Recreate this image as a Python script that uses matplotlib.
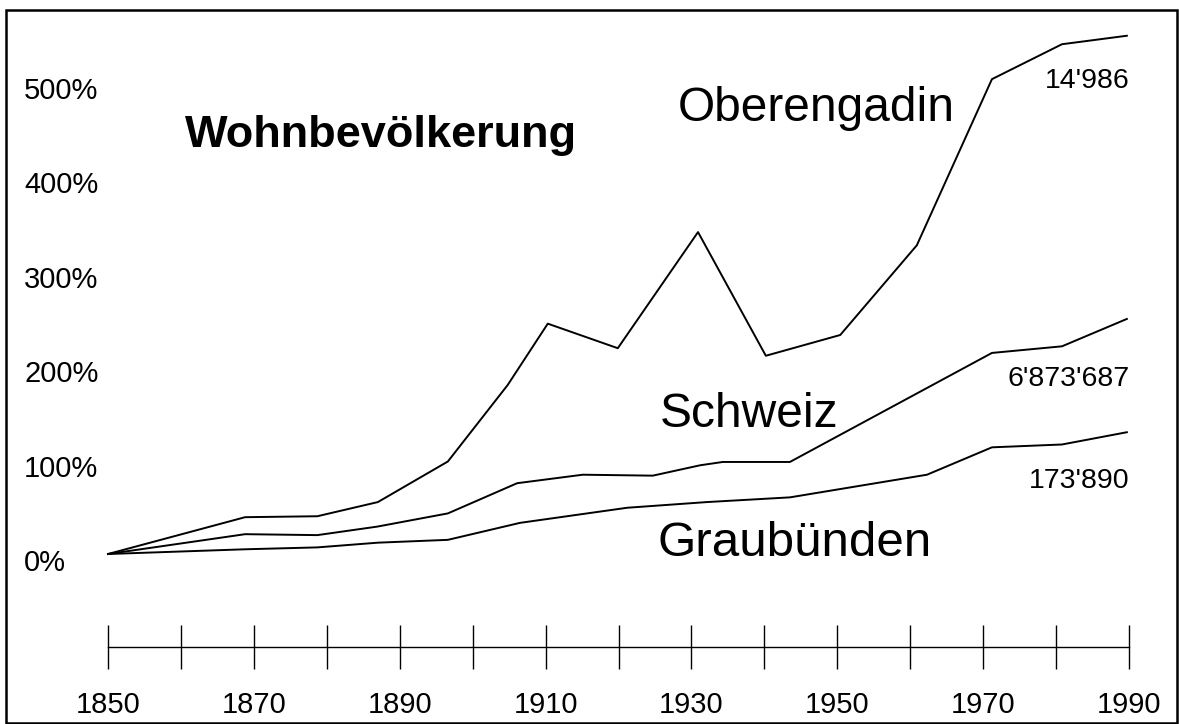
import matplotlib
matplotlib.use("Agg")
import matplotlib.pyplot as plt
from matplotlib.patches import Rectangle
from matplotlib.transforms import ScaledTranslation

# Wohnbevölkerung, Zunahme seit 1850 in Prozent
years_ober = [1850, 1868.8, 1878.7, 1887.0, 1896.6, 1904.8, 1910.3, 1919.9, 1930.9,
              1940.2, 1950.4, 1960.9, 1971.2, 1980.8, 1989.7]
ober = [0, 39, 40, 55, 98, 179, 244, 218, 341, 210, 232, 327, 503, 540, 549]

years_ch = [1850, 1868.8, 1878.7, 1886.9, 1896.6, 1906.1, 1915.1, 1924.7, 1931.2,
            1934.3, 1943.5, 1971.2, 1980.8, 1989.7]
schweiz = [0, 21, 20, 29, 43, 75, 84, 83, 94, 97.5, 97.5, 213, 220, 249]

years_gr = [1850, 1868.8, 1878.7, 1887.0, 1896.6, 1906.5, 1921.2, 1932.1, 1943.5,
            1962.3, 1971.2, 1980.8, 1989.7]
graub = [0, 5, 7, 12, 15, 33, 49, 55, 60, 84, 113, 116, 129]

pct_labels = [0, 100, 200, 300, 400, 500]
major_years = list(range(1850, 1991, 20))
minor_years = list(range(1860, 1990, 20))

end_values = ["14'986", "6'873'687", "173'890"]

plt.rcParams['font.family'] = ['Liberation Sans', 'DejaVu Sans']

fig = plt.figure(figsize=(11.79, 7.24), dpi=100)
ax = fig.add_axes([0, 0, 1, 1])
ax.set_xlim(1835.19, 1996.85)
ax.set_ylim(-180.08, 586.86)

lw = 1.4
ax.plot(years_ober, ober, color='black', lw=lw)
ax.plot(years_ch, schweiz, color='black', lw=lw)
ax.plot(years_gr, graub, color='black', lw=lw)

# x axis drawn as a line with cross ticks below the chart
for side in ['left', 'top', 'right']:
    ax.spines[side].set_visible(False)
ax.spines['bottom'].set_position(('data', -98.5))
ax.spines['bottom'].set_bounds(1850, 1990)
ax.spines['bottom'].set_linewidth(1.0)
ax.set_xticks(major_years)
ax.set_xticklabels([str(y) for y in major_years])
ax.set_xticks(minor_years, minor=True)
ax.tick_params(axis='x', which='both', direction='inout', length=31.7, width=1.0,
               labelsize=21, pad=16)
ax.set_yticks([])

# percent labels
shift = ScaledTranslation(0, -17 / 100, fig.dpi_scale_trans)
for v in pct_labels:
    ax.text(24 / 1179, v, f"{v}%", transform=ax.get_yaxis_transform() + shift,
            ha='left', va='baseline', fontsize=21)

ax.text(1860.6, 431, "Wohnbevölkerung", fontsize=32.5, fontweight='bold',
        ha='left', va='baseline')
ax.text(1966.1, 459, "Oberengadin", fontsize=34.5, ha='right', va='baseline')
ax.text(1925.6, 134.5, "Schweiz", fontsize=34.5, ha='left', va='baseline')
ax.text(1925.4, -2, "Graubünden", fontsize=35.5, ha='left', va='baseline')

ax.text(1990.1, 493.6, end_values[0], fontsize=20.5, ha='right', va='baseline')
ax.text(1990.1, 178, end_values[1], fontsize=20.5, ha='right', va='baseline')
ax.text(1990.1, 70, end_values[2], fontsize=20.5, ha='right', va='baseline')

# frame around the figure
fig.patches.append(Rectangle((6 / 1179, 1 / 724), 1171 / 1179, 713 / 724,
                             transform=fig.transFigure, fill=False, lw=1.8,
                             edgecolor='black'))

fig.savefig("out.png", dpi=100, facecolor='white')
